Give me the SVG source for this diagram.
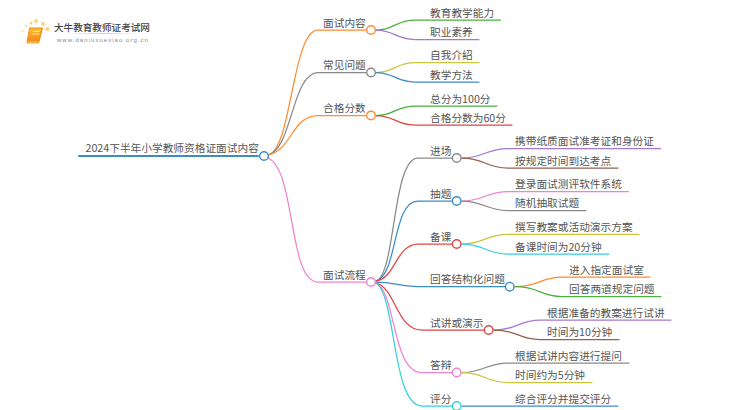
<svg xmlns="http://www.w3.org/2000/svg" width="750" height="410" viewBox="0 0 750 410">
<defs>
<linearGradient id="bk" x1="0" y1="0" x2="0" y2="1"><stop offset="0" stop-color="#fbbf2e"/><stop offset="1" stop-color="#f08a12"/></linearGradient>
<linearGradient id="ul" x1="0" y1="0" x2="1" y2="0"><stop offset="0" stop-color="#ddd" stop-opacity="0"/><stop offset=".5" stop-color="#ccc"/><stop offset="1" stop-color="#ddd" stop-opacity="0"/></linearGradient>
</defs>
<style>
text{font-family:"Noto Sans CJK SC","Noto Sans",sans-serif;font-size:10.7px;fill:#555}
path{fill:none;stroke-width:1.25;stroke-linecap:round}
circle{fill:#fff;stroke-width:1.4}
.dot{stroke:none}
.or{stroke:#ff8c2e}.gy{stroke:#8a8a8a}.gn{stroke:#4caf3f}.pu{stroke:#a678d0}.yl{stroke:#c9c63c}.bl{stroke:#3a8dc8}.rd{stroke:#e04545}.br{stroke:#94604f}.pk{stroke:#ee82d0}.cy{stroke:#35d0e0}
</style>
<rect width="750" height="410" fill="#fff"/>
<g id="logo">
<circle class="dot" cx="36" cy="21" r="1.9" style="fill:#fdd27a"/><circle class="dot" cx="31" cy="23" r="1.5" style="fill:#fdd27a"/><circle class="dot" cx="26" cy="26" r="1.4" style="fill:#fde3a8"/><circle class="dot" cx="22.500" cy="31" r="1.2" style="fill:#fde3a8"/><circle class="dot" cx="22" cy="37" r="1" style="fill:#fdeccc"/><circle class="dot" cx="24" cy="43" r="0.900" style="fill:#fdeccc"/><circle class="dot" cx="43" cy="24" r="1.900" style="fill:#fdd27a"/><circle class="dot" cx="47.500" cy="29" r="2.100" style="fill:#fdd27a"/>
<path d="M30 28H42.500L39 41.500H27.500Z" style="fill:url(#bk);stroke:#ee8a15;stroke-width:1"/>
<path d="M27.500 41.500L27 43H38.500L39 41.500" style="fill:#f7c98a;stroke:#ee8a15;stroke-width:.8"/>
<path d="M33 31.500H39.500M32.300 34H38.800" style="stroke:#fde9b8;stroke-width:.8"/>
<text x="54" y="31" style="font-size:9.6px;fill:#444;font-weight:500">大牛教育教师证考试网</text>
<rect x="60" y="33" width="85" height="1" fill="url(#ul)"/>
<text x="57" y="41.500" style="font-family:'Liberation Sans',sans-serif;font-size:6px;letter-spacing:1.04px;fill:#888">www.daniuxuexiao.org.cn</text>
</g>
<g id="connectors">
<path d="M79 156H258" class="bl" style="stroke-width:2"/>
<path d="M268 155C292 150 292 30 318 30H366" class="or"/>
<path d="M268 155C292 150 292 72.500 318 72.500H366" class="gy"/>
<path d="M268 155C292 150 292 115.500 318 115.500H366" class="or"/>
<path d="M268 158C296 170 288 282 318 282H366" class="pk"/>
<path d="M376 30C395 30 395 20 415 20H500.500" class="gn"/>
<path d="M376 30C395 30 395 39.500 415 39.500H479" class="pu"/>
<path d="M376 72.500C395 72.500 395 62.500 415 62.500H479" class="yl"/>
<path d="M376 72.500C395 72.500 395 82 415 82H479" class="bl"/>
<path d="M376 115.500C395 115.500 395 106 415 106H497" class="gn"/>
<path d="M376 115.500C395 115.500 395 125 415 125H512" class="rd"/>
<path d="M376 281C396 275 392 158 418 158H452" class="gy"/>
<path d="M376 281C398 275 392 201 418 201H452" class="bl"/>
<path d="M376 281C396 278 396 244 418 244H452" class="rd"/>
<path d="M376 282C396 282 396 286.500 418 286.500H505" class="bl"/>
<path d="M376 283C396 288 396 330 422 330H484" class="rd"/>
<path d="M376 283C396 292 392 372.500 422 372.500H452" class="pk"/>
<path d="M376 283C396 295 392 406 422 406H452" class="cy"/>
<path d="M462 158C485 158 485 148.500 508 148.500H660.500" class="pu"/>
<path d="M462 158C485 158 485 168 508 168H618" class="br"/>
<path d="M462 201C485 201 485 191.500 508 191.500H628.500" class="pk"/>
<path d="M462 201C485 201 485 210.500 508 210.500H586" class="gy"/>
<path d="M462 244C485 244 485 234.300 508 234.300H639" class="yl"/>
<path d="M462 244C485 244 485 254 508 254H609" class="cy"/>
<path d="M515 286.700C540 286.700 540 277 562 277H650" class="or"/>
<path d="M515 286.700C540 286.700 540 296.500 562 296.500H661" class="gn"/>
<path d="M494 330C518 330 518 320 540 320H671" class="pu"/>
<path d="M494 330C518 330 518 339.500 540 339.500H619" class="br"/>
<path d="M462 372.500C485 372.500 485 363 508 363H629" class="gy"/>
<path d="M462 372.500C485 372.500 485 382.500 508 382.500H592" class="yl"/>
<path d="M462 406H618" class="bl"/>
</g>
<g id="root"><text x="85.500" y="152">2024下半年小学教师资格证面试内容</text><circle cx="264" cy="156" r="4.300" class="bl"/></g>
<g id="n-mianshineirong"><text x="323" y="26.500">面试内容</text><circle cx="371" cy="30" r="4.300" class="or"/></g>
<g id="n-changjian"><text x="323" y="69">常见问题</text><circle cx="371" cy="72.500" r="4.300" class="gy"/></g>
<g id="n-hege"><text x="323" y="112">合格分数</text><circle cx="371" cy="115.500" r="4.300" class="or"/></g>
<g id="n-liucheng"><text x="323" y="278.500">面试流程</text><circle cx="371" cy="282" r="4.300" class="pk"/></g>
<g id="n-jinchang"><text x="430" y="154.500">进场</text><circle cx="456.700" cy="158" r="4.300" class="gy"/></g>
<g id="n-chouti"><text x="430" y="197.500">抽题</text><circle cx="456.700" cy="201" r="4.300" class="bl"/></g>
<g id="n-beike"><text x="430" y="240.500">备课</text><circle cx="456.700" cy="244" r="4.300" class="rd"/></g>
<g id="n-huida"><text x="430" y="283">回答结构化问题</text><circle cx="509.700" cy="286.700" r="4.300" class="bl"/></g>
<g id="n-shijiang"><text x="430" y="326.500">试讲或演示</text><circle cx="488.700" cy="330" r="4.300" class="rd"/></g>
<g id="n-dabian"><text x="430" y="369">答辩</text><circle cx="456.700" cy="372.500" r="4.300" class="pk"/></g>
<g id="n-pingfen"><text x="430" y="402.500">评分</text><circle cx="456.700" cy="406" r="4.300" class="cy"/></g>
<g id="l1"><text x="430" y="16.500">教育教学能力</text></g>
<g id="l2"><text x="430" y="36">职业素养</text></g>
<g id="l3"><text x="430" y="59">自我介绍</text></g>
<g id="l4"><text x="430" y="78.500">教学方法</text></g>
<g id="l5"><text x="430" y="102.500">总分为100分</text></g>
<g id="l6"><text x="430" y="121.500">合格分数为60分</text></g>
<g id="l7"><text x="515" y="145">携带纸质面试准考证和身份证</text></g>
<g id="l8"><text x="515" y="164.500">按规定时间到达考点</text></g>
<g id="l9"><text x="515" y="188">登录面试测评软件系统</text></g>
<g id="l10"><text x="515" y="207">随机抽取试题</text></g>
<g id="l11"><text x="515" y="230.800">撰写教案或活动演示方案</text></g>
<g id="l12"><text x="515" y="250.500">备课时间为20分钟</text></g>
<g id="l13"><text x="569" y="273.500">进入指定面试室</text></g>
<g id="l14"><text x="569" y="293">回答两道规定问题</text></g>
<g id="l15"><text x="547" y="316.500">根据准备的教案进行试讲</text></g>
<g id="l16"><text x="547" y="336">时间为10分钟</text></g>
<g id="l17"><text x="515" y="359.500">根据试讲内容进行提问</text></g>
<g id="l18"><text x="515" y="379">时间约为5分钟</text></g>
<g id="l19"><text x="515" y="402.500">综合评分并提交评分</text></g>
</svg>
